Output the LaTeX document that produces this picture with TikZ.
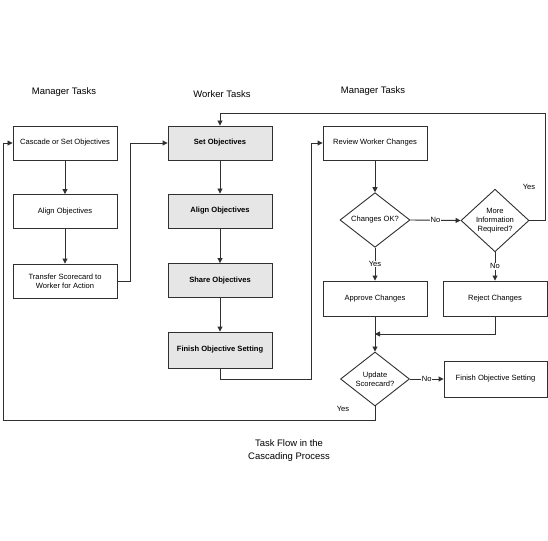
\documentclass[tikz,border=0pt]{standalone}
\usepackage{fontspec}
\setmainfont{Liberation Sans}
\usetikzlibrary{shapes.geometric,arrows.meta}
\definecolor{ln}{HTML}{303030}
\definecolor{wfill}{HTML}{E6E6E6}
\tikzset{
  box/.style={draw=ln, line width=0.9bp, fill=white, minimum width=104bp, minimum height=34bp, inner sep=1pt, align=center, font=\fontsize{7.6}{9}\selectfont},
  wbox/.style={box, fill=wfill, font=\fontsize{7.6}{9}\selectfont\bfseries},
  dia/.style={diamond, draw=ln, line width=0.9bp, fill=white, inner sep=0pt, align=center, font=\fontsize{7.6}{9}\selectfont},
  hdr/.style={font=\fontsize{9.5}{11.5}\selectfont, align=center},
  lbl/.style={font=\fontsize{7.6}{9}\selectfont, fill=white, inner sep=0.5pt},
  lblc/.style={font=\fontsize{7.6}{9}\selectfont, inner sep=0.5pt},
  conn/.style={draw=ln, line width=0.9bp},
  arr/.style={conn, -{Triangle[length=5bp,width=5bp]}}
}
\begin{document}
\begin{tikzpicture}[x=1bp,y=-1bp]
\useasboundingbox[fill=white] (0,0) rectangle (548,541);
% headers
\node[hdr] (h1) at (64,92) {Manager Tasks};
\node[hdr] (h2) at (222,94) {Worker Tasks};
\node[hdr] (h3) at (373,91) {Manager Tasks};
% manager column
\node[box] (m1) at (65,143) {Cascade or Set Objectives};
\node[box] (m2) at (65,211.5) {Align Objectives};
\node[box] (m3) at (65,281) {Transfer Scorecard to\\Worker for Action};
% worker column
\node[wbox] (w1) at (220,143) {Set Objectives};
\node[wbox] (w2) at (220,211) {Align Objectives};
\node[wbox] (w3) at (220,280.5) {Share Objectives};
\node[wbox, minimum height=36bp] (w4) at (220,350) {Finish Objective Setting};
% manager review column
\node[box] (r1) at (375,143) {Review Worker Changes};
\node[dia, minimum width=70bp, minimum height=50bp] (d1) at (375,220) {Changes OK?};
\node[dia, minimum width=68bp, minimum height=51bp] (d2) at (495,220.5) {More\\Information\\Required?};
\node[box, minimum height=35bp] (a1) at (375,298.5) {Approve Changes};
\node[box, minimum height=35bp] (a2) at (495,298.5) {Reject Changes};
\node[dia, minimum width=69bp, minimum height=54bp] (d3) at (375,379) {Update\\Scorecard?};
\node[box, minimum width=103bp, minimum height=36bp] (f1) at (495.5,379) {Finish Objective Setting};
% title
\node[hdr, font=\fontsize{9.5}{13}\selectfont] (t) at (289,450.5) {Task Flow in the\\Cascading Process};
% coordinates
\coordinate (c1) at (130,281);
\coordinate (c2) at (311,379);
\coordinate (c3) at (545,113);
\coordinate (c4) at (375,334);
\coordinate (c5) at (3,420);
% connectors
\draw[arr] (m1) -- (m2);
\draw[arr] (m2) -- (m3);
\draw[arr] (m3.east) -| (c1) |- (w1.west);
\draw[arr] (w1) -- (w2);
\draw[arr] (w2) -- (w3);
\draw[arr] (w3) -- (w4);
\draw[arr] (w4.south) |- (c2) |- (r1.west);
\draw[arr] (r1) -- (d1);
\draw[arr] (d1.east) -- node[lbl]{No} (d2.west);
\draw[arr] (d2.east) -| (c3) -| (w1.north);
\node[lblc] (y1) at (529,187) {Yes};
\draw[arr] (d1.south) -- node[lbl]{Yes} (a1.north);
\draw[arr] (d2.south) -- node[lbl]{No} (a2.north);
\draw[arr] (a1.south) -- (d3.north);
\draw[arr] (a2.south) |- (c4);
\draw[arr] (d3.east) -- node[lbl]{No} (f1.west);
\draw[arr] (d3.south) |- (c5) |- (m1.west);
\node[lblc] (y2) at (343,409) {Yes};
\end{tikzpicture}
\end{document}
